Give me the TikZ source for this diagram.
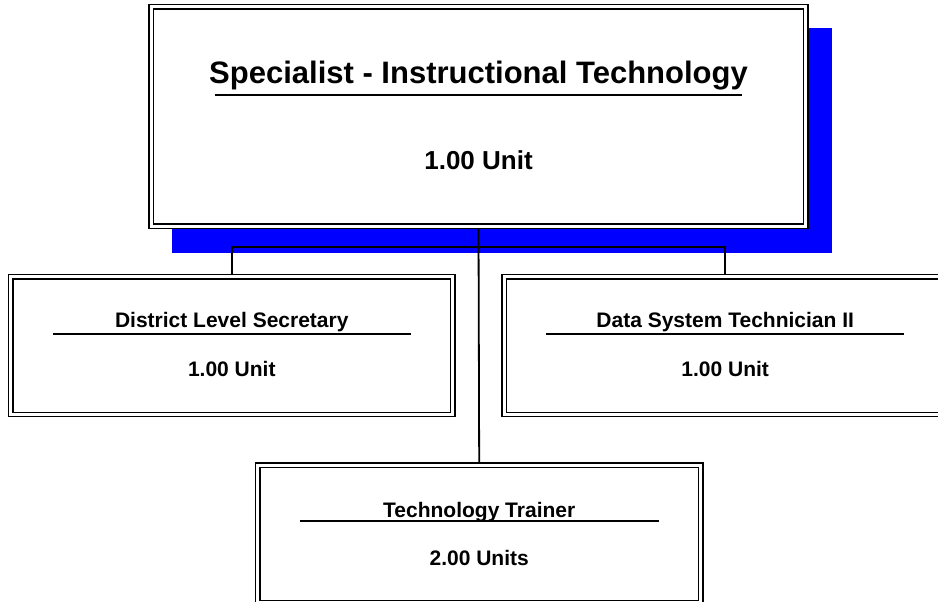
\documentclass[tikz,border=0pt]{standalone}
\usepackage{fontspec}
\setmainfont{Liberation Sans}
\usetikzlibrary{calc,backgrounds}
\definecolor{shadowblue}{RGB}{0,0,255}

\begin{document}
\begin{tikzpicture}[x=1pt,y=-1pt,
        box/.style={draw,double,double distance=3.1pt,line width=1.4pt,fill=white,
            inner sep=0pt,outer sep=0pt,minimum width=442pt,minimum height=137.7pt},
        bigbox/.style={box,minimum width=654.6pt,minimum height=219.5pt},
        post/.style={anchor=base,inner sep=0pt,font=\bfseries\fontsize{21}{25}\selectfont},
        bigpost/.style={post,font=\bfseries\fontsize{31}{36}\selectfont},
        bigunits/.style={post,font=\bfseries\fontsize{26}{30}\selectfont},
        rule/.style={line width=1.7pt},
        link/.style={line width=1.8pt}]
    \useasboundingbox (0,0) rectangle (938,602);
    \clip (0,0) rectangle (938,602);
    % boxes
    \node[bigbox] (spec) at (478.5,116.6) {};
    \node[box] (sec) at (231.8,345.6) {};
    \node[box] (dst) at (725.2,345.6) {};
    \node[box,minimum width=443.3pt] (trn) at (479.2,534) {};
    % titles and units
    \node[bigpost] (spect) at ($(spec.north)+(0,76.5)$) {Specialist - Instructional Technology};
    \node[bigunits] (specu) at ($(spec.north)+(0,163)$) {1.00 Unit};
    \node[post] (sect) at ($(sec.north)+(0,50.5)$) {District Level Secretary};
    \node[post] (secu) at ($(sec.north)+(0,100)$) {1.00 Unit};
    \node[post] (dstt) at ($(dst.north)+(0,50.5)$) {Data System Technician II};
    \node[post] (dstu) at ($(dst.north)+(0,100)$) {1.00 Unit};
    \node[post] (trnt) at ($(trn.north)+(0,52)$) {Technology Trainer};
    \node[post] (trnu) at ($(trn.north)+(0,100)$) {2.00 Units};
    % rules under the titles
    \draw[rule] ([shift={(63.8,88)}]spec.north west) -- ([shift={(-63.8,88)}]spec.north east);
    \draw[rule] ([shift={(42,57.2)}]sec.north west) -- ([shift={(-42,57.2)}]sec.north east);
    \draw[rule] ([shift={(42,57.2)}]dst.north west) -- ([shift={(-42,57.2)}]dst.north east);
    \draw[rule] ([shift={(42,56)}]trn.north west) -- ([shift={(-42,56)}]trn.north east);
    \begin{scope}[on background layer]
        \fill[shadowblue] ([shift={(20.8,21.2)}]spec.north west) rectangle ([shift={(26.2,26.7)}]spec.south east);
        \coordinate (bus) at (478.5,247);
        \draw[link] (spec.south) -- (trn.north);
        \draw[link] (sec.north) |- (bus) -| (dst.north);
    \end{scope}
\end{tikzpicture}
\end{document}
